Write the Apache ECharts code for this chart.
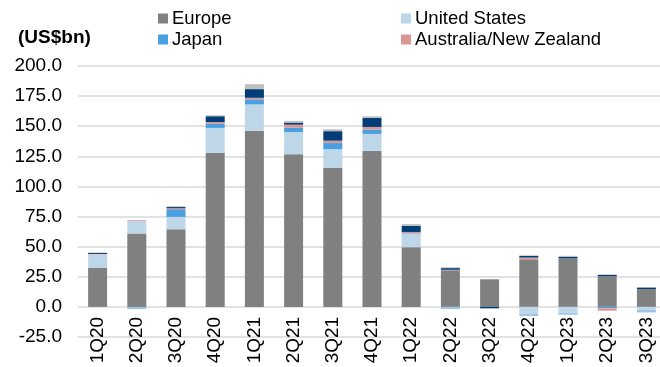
<!DOCTYPE html>
<html>
<head>
<meta charset="utf-8">
<script src="https://cdn.jsdelivr.net/npm/echarts@6/dist/echarts.min.js"></script>
<style>
  html, body { margin: 0; padding: 0; background: #fff; }
  #chart { width: 660px; height: 367px; }
</style>
</head>
<body>
<div id="chart"></div>
<script>
const categories = ['1Q20', '2Q20', '3Q20', '4Q20', '1Q21', '2Q21', '3Q21', '4Q21', '1Q22', '2Q22', '3Q22', '4Q22', '1Q23', '2Q23', '3Q23'];
const europe = [32.6, 60.9, 64.4, 127.9, 146.2, 126.8, 115.3, 129.5, 49.6, 30.4, 22.9, 39.5, 40.3, 25.4, 14.8];
const unitedStates = [11.0, 10.5, 10.3, 20.7, 21.9, 18.4, 15.6, 14.1, 11.2, 0, 0, -6.0, -4.8, 0, -2.6];
const japan = [0, 0, 6.4, 3.5, 4.2, 3.5, 5.1, 3.6, 0.4, 0, 0, 0, 0, -1.2, 0];
const ausNz = [0.3, 0.6, 0.8, 1.4, 1.3, 2.6, 2.0, 2.2, 1.0, 0.4, 0, 1.5, 0, -2.0, 0];
// series shown in the bars but not in the legend
const otherNavy = [0.8, 0, 1.0, 4.8, 7.2, 1.7, 7.9, 7.5, 5.0, 1.4, -1.2, 1.3, 1.3, 1.2, 1.3];
const otherGrey = [0.5, 0, 0.7, 0.8, 4.1, 1.4, 1.6, 1.4, 1.5, 0.7, 0, 0.5, 0.8, 0.3, 0.4];
const otherBlue = [0, -1.8, 0, 0, 0, 0, 0, 0, 0, -1.8, 0, -1.6, -1.7, 0, -2.0];

const FONT = 'Liberation Sans, Arial, sans-serif';

const chart = echarts.init(document.getElementById('chart'));

const bar = (name, data, color) => ({
  name,
  type: 'bar',
  stack: 'total',
  data,
  barWidth: 19,
  itemStyle: { color },
  emphasis: { disabled: true },
});

const legendAt = (name, left, top) => ({
  data: [name],
  left, top,
  itemWidth: 10,
  itemHeight: 10,
  icon: 'rect',
  itemGap: 5,
  textStyle: { fontFamily: FONT, fontSize: 18.5, color: '#000', padding: [0, 0, 0, -1] },
  padding: 0,
  selectedMode: false,
});

// plot spans 66..337 px for -25..200, so the zero line sits 271/9 px above the bottom
const GRID_H = 271;

chart.setOption({
  backgroundColor: '#fff',
  animation: false,
  title: {
    text: '(US$bn)',
    left: 13, top: 23,
    textStyle: { fontFamily: FONT, fontSize: 19, fontWeight: 'bold', color: '#000' },
  },
  legend: [
    legendAt('Europe', 158, 9),
    legendAt('United States', 401, 9),
    legendAt('Japan', 158, 30),
    legendAt('Australia/New Zealand', 401, 30),
  ],
  grid: { left: 78, top: 66, width: 588, height: GRID_H, outerBoundsMode: 'none' },
  xAxis: {
    type: 'category',
    data: categories,
    offset: -GRID_H / 9,
    axisLine: { show: false, onZero: false },
    axisTick: { show: false },
    axisLabel: { rotate: 90, margin: 10, fontFamily: FONT, fontSize: 19, color: '#000' },
  },
  yAxis: {
    type: 'value',
    min: -25, max: 200, interval: 25,
    axisLine: { show: false },
    axisTick: { show: false },
    splitLine: { lineStyle: { color: '#d9d9d9', width: 1.5 } },
    axisLabel: {
      margin: 16, fontFamily: FONT, fontSize: 19, color: '#000',
      formatter: v => v.toFixed(1),
    },
  },
  series: [
    bar('Europe', europe, '#808080'),
    bar('United States', unitedStates, '#bdd7e9'),
    bar('Japan', japan, '#4a9fe0'),
    bar('Australia/New Zealand', ausNz, '#da9694'),
    bar('Other (navy)', otherNavy, '#023d78'),
    bar('Other (grey)', otherGrey, '#bfbfbf'),
    bar('Other (blue)', otherBlue, '#9dc3e6'),
  ],
});
</script>
</body>
</html>
